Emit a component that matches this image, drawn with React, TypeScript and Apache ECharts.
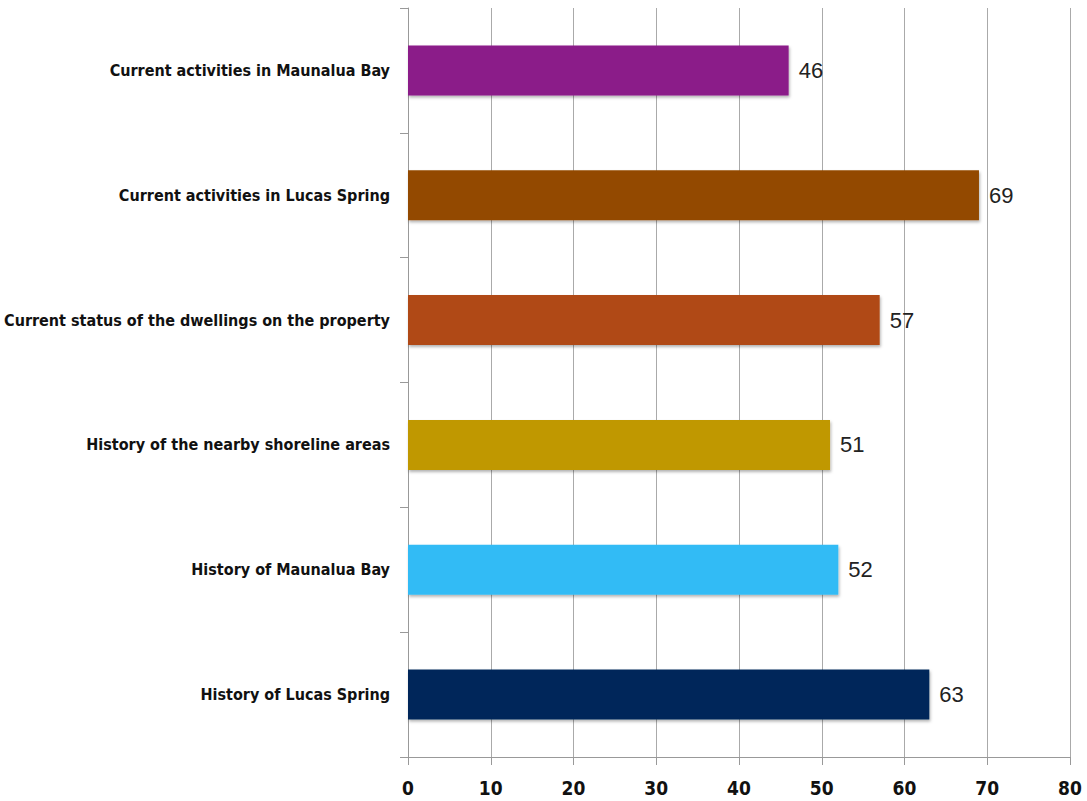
import React, { useEffect, useRef } from "react";
import * as echarts from "echarts";

const categories = [
  "History of Lucas Spring",
  "History of Maunalua Bay",
  "History of the nearby shoreline areas",
  "Current status of the dwellings on the property",
  "Current activities in Lucas Spring",
  "Current activities in Maunalua Bay",
];
const values = [63, 52, 51, 57, 69, 46];
const colors = ["#06285A", "#33BBF5", "#C09800", "#B04A12", "#934A00", "#8B1A89"];
const xTicks = [0, 10, 20, 30, 40, 50, 60, 70, 80];

export default function App() {
  const ref = useRef<HTMLDivElement>(null);
  useEffect(() => {
    if (!ref.current) return;
    const chart = echarts.init(ref.current, null, { renderer: "svg" });
    chart.setOption({
      animation: false,
      backgroundColor: "#ffffff",
      grid: { left: 408, right: 17, top: 8, bottom: 44, containLabel: false },
      xAxis: {
        type: "value",
        min: xTicks[0],
        max: xTicks[xTicks.length - 1],
        interval: 10,
        axisLine: { show: true, lineStyle: { color: "#999", width: 1 } },
        axisTick: { show: true, length: 8, inside: false, lineStyle: { color: "#999" } },
        splitLine: { show: true, lineStyle: { color: "#aaa", width: 1 } },
        axisLabel: {
          color: "#111",
          fontFamily: "'Liberation Sans Narrow', 'DejaVu Sans Condensed', sans-serif",
          fontWeight: "bold",
          fontSize: 19,
          margin: 21,
        },
      },
      yAxis: {
        type: "category",
        data: categories,
        axisLine: { show: true, lineStyle: { color: "#999", width: 1 } },
        axisTick: { show: true, length: 8, lineStyle: { color: "#999" } },
        axisLabel: {
          color: "#111",
          fontFamily: "'Liberation Sans Narrow', 'DejaVu Sans Condensed', sans-serif",
          fontWeight: "bold",
          fontSize: 16,
          margin: 18,
        },
      },
      series: [
        {
          type: "bar",
          barWidth: 50,
          data: values.map((v, i) => ({ value: v, itemStyle: { color: colors[i] } })),
          itemStyle: {
            shadowBlur: 3,
            shadowOffsetX: 1,
            shadowOffsetY: 2,
            shadowColor: "rgba(0,0,0,0.3)",
          },
          label: {
            show: true,
            position: "right",
            distance: 10,
            color: "#222",
            fontFamily: "'Liberation Sans', Arial, sans-serif",
            fontSize: 22,
          },
        },
      ],
    });
    return () => chart.dispose();
  }, []);
  return (
    <div
      ref={ref}
      style={{ position: "fixed", left: 0, top: 0, width: 1087, height: 801, background: "#fff" }}
    />
  );
}
